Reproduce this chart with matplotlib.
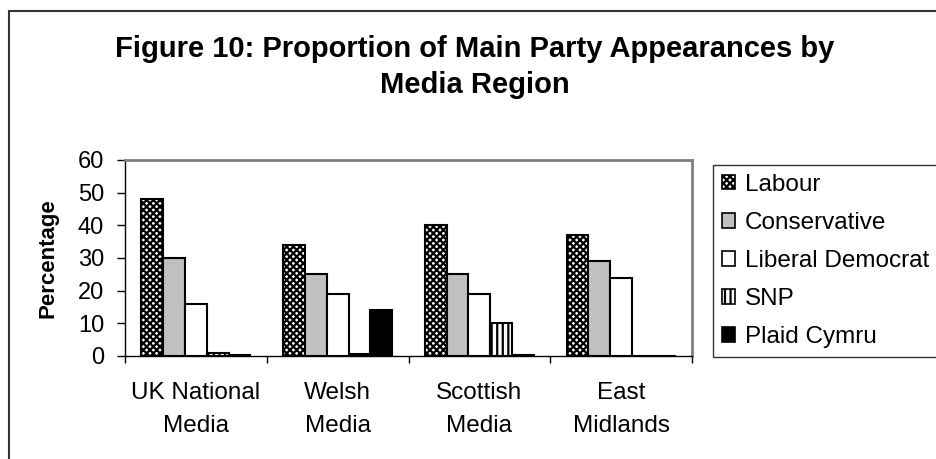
import numpy as np
import matplotlib
matplotlib.use("Agg")
import matplotlib.pyplot as plt
from matplotlib.patches import Rectangle

plt.rcParams['font.family'] = ['Liberation Sans', 'DejaVu Sans']
plt.rcParams['hatch.linewidth'] = 1.6

# data
regions = ['UK National\nMedia', 'Welsh\nMedia', 'Scottish\nMedia', 'East\nMidlands']
parties = ['Labour', 'Conservative', 'Liberal Democrat', 'SNP', 'Plaid Cymru']
labour = [48, 34, 40, 37]
conservative = [30, 25, 25, 29]
lib_dem = [16, 19, 19, 24]
snp = [0.8, 0.5, 10, 0]
plaid = [0.3, 14, 0.2, 0]
series = [labour, conservative, lib_dem, snp, plaid]

styles = [
    dict(facecolor='white', hatch='xxxxx'),
    dict(facecolor='#C0C0C0', hatch=None),
    dict(facecolor='white', hatch=None),
    dict(facecolor='white', hatch='|||'),
    dict(facecolor='black', hatch=None),
]

W, H = 937, 459
fig = plt.figure(figsize=(W / 100, H / 100), dpi=100)
ax = fig.add_axes([125 / W, 1 - 356 / H, (692 - 125) / W, (356 - 160) / H])

x = np.arange(len(regions))
bw = 1 / 6.5
start = -2 * bw
for i, (vals, st) in enumerate(zip(series, styles)):
    ax.bar(x + start + i * bw, vals, width=bw, label=parties[i],
           edgecolor='black', linewidth=1.5, **st)

ax.set_xlim(-0.5, len(regions) - 0.5)
ax.set_ylim(0, 60)
ax.set_yticks(range(0, 61, 10))
ax.tick_params(axis='y', direction='out', length=6, width=1, labelsize=17, pad=9)
ax.set_xticks(x)
ax.set_xticklabels(regions, fontsize=17.5, linespacing=1.6)
ax.tick_params(axis='x', which='major', length=0, pad=19)
ax.set_xticks(np.arange(-0.5, len(regions), 1), minor=True)
ax.tick_params(axis='x', which='minor', direction='out', length=5, width=1)

for side in ['top', 'right']:
    ax.spines[side].set_color('#808080')
    ax.spines[side].set_linewidth(2)
for side in ['left', 'bottom']:
    ax.spines[side].set_color('black')
    ax.spines[side].set_linewidth(1)

ax.set_ylabel('Percentage', fontsize=16, fontweight='bold')
ax.yaxis.set_label_coords((59 - 125) / 567, 0.5)

fig.text(475 / W, 1 - 67 / H, 'Figure 10: Proportion of Main Party Appearances by\nMedia Region',
         ha='center', va='center', fontsize=21, fontweight='bold', linespacing=1.4)

leg = ax.legend(loc='upper left', bbox_to_anchor=(713 / W, 1 - 165 / H),
                bbox_transform=fig.transFigure, fontsize=17.5, frameon=True,
                fancybox=False, edgecolor='black', handlelength=0.55, handleheight=0.55,
                handletextpad=0.4, labelspacing=0.66, borderpad=0.36, borderaxespad=0)
leg.get_frame().set_linewidth(1)
for h in leg.legend_handles:
    h.set_linewidth(1.2)

fig.add_artist(Rectangle((9 / W, -0.1), 1.2, 1 - 11 / H + 0.1, transform=fig.transFigure,
                         fill=False, edgecolor='#333333', linewidth=1.5))

fig.savefig('out.png', dpi=100)
